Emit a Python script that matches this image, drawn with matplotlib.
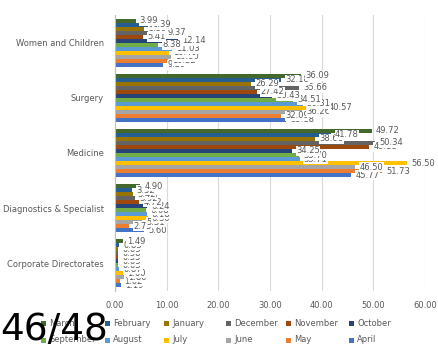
import matplotlib
matplotlib.use("Agg")
import matplotlib.pyplot as plt
from matplotlib.patches import Rectangle
import numpy as np

# Categories, bottom to top
categories = ["Corporate Directorates", "Diagnostics & Specialist", "Medicine",
              "Surgery", "Women and Children"]

# Series in plotting order (first series sits at the bottom of each cluster)
months = ["April", "May", "June", "July", "August", "September",
          "October", "November", "December", "January", "February", "March"]

april     = [1.19, 5.60, 45.77, 33.18, 9.29]
may       = [1.02, 2.75, 51.73, 32.09, 10.32]
june      = [1.80, 5.31, 46.50, 36.26, 10.80]
july      = [1.60, 6.30, 56.50, 40.57, 10.40]
august    = [0.87, 6.18, 35.71, 36.31, 11.03]
september = [0.63, 6.08, 35.70, 34.51, 8.38]
october   = [0.63, 6.24, 34.25, 30.43, 12.14]
november  = [0.55, 4.72, 49.18, 27.42, 5.41]
december  = [0.58, 3.92, 50.34, 35.66, 9.37]
january   = [0.63, 3.42, 38.68, 26.29, 5.59]
february  = [0.83, 3.32, 41.78, 32.18, 6.39]
march     = [1.49, 4.90, 49.72, 36.09, 3.99]

series = [april, may, june, july, august, september,
          october, november, december, january, february, march]

colors = ["#4472C4", "#ED7D31", "#A5A5A5", "#FFC000", "#5B9BD5", "#70AD47",
          "#264478", "#9E480E", "#636363", "#997300", "#255E91", "#43682B"]

x_ticks = [0, 10, 20, 30, 40, 50, 60]
x_tick_labels = ["0.00", "10.00", "20.00", "30.00", "40.00", "50.00", "60.00"]

TEXT = "#595959"
W, H = 438, 347

fig = plt.figure(figsize=(W / 100, H / 100), dpi=100)
ax = fig.add_axes([115 / W, 1 - 291 / H, 310 / W, 276 / H])

n = len(series)
bar_h = 0.0725
y_base = np.arange(len(categories))

for i, (vals, col) in enumerate(zip(series, colors)):
    ys = y_base + (i - (n - 1) / 2) * bar_h
    ax.barh(ys, vals, height=bar_h, color=col, zorder=2)

# data labels drawn after all bars
for i, vals in enumerate(series):
    ys = y_base + (i - (n - 1) / 2) * bar_h
    for y, v in zip(ys, vals):
        ax.annotate(f"{v:.2f}", (v, y), xytext=(3, 0), textcoords="offset points",
                    ha="left", va="center", fontsize=6, color=TEXT, zorder=5,
                    bbox=dict(boxstyle="square,pad=0.05", fc="white", ec="none"))

ax.set_xlim(0, 60)
ax.set_ylim(-0.5, len(categories) - 0.5)
ax.set_xticks(x_ticks)
ax.set_xticklabels(x_tick_labels)
ax.set_yticks(y_base)
ax.set_yticklabels(categories)
ax.tick_params(axis="both", length=0, labelsize=6, colors=TEXT)
ax.tick_params(axis="x", pad=7)
ax.tick_params(axis="y", pad=8)
ax.grid(axis="x", color="#D9D9D9", linewidth=0.8, zorder=0)
for s in ["top", "right", "bottom"]:
    ax.spines[s].set_visible(False)
ax.spines["left"].set_color("#BFBFBF")
ax.spines["left"].set_linewidth(0.8)

# legend: two rows, six columns, in reverse series order
legend_cols = [43, 107, 166, 228, 288, 351]
legend_rows = [323, 340]
for k, idx in enumerate(range(n - 1, -1, -1)):
    r, c = divmod(k, 6)
    xm, ym = legend_cols[c], legend_rows[r]
    fig.patches.append(Rectangle(((xm - 2.5) / W, 1 - (ym + 2.5) / H), 5 / W, 5 / H,
                                 transform=fig.transFigure, fc=colors[idx], ec="none"))
    fig.text((xm + 6) / W, 1 - ym / H, months[idx], fontsize=6, color=TEXT,
             ha="left", va="center")

fig.text(0.0, 1 - 340 / H, "46/48", fontsize=27, color="black",
         ha="left", va="baseline", zorder=10)

fig.savefig("out.png", dpi=100)
